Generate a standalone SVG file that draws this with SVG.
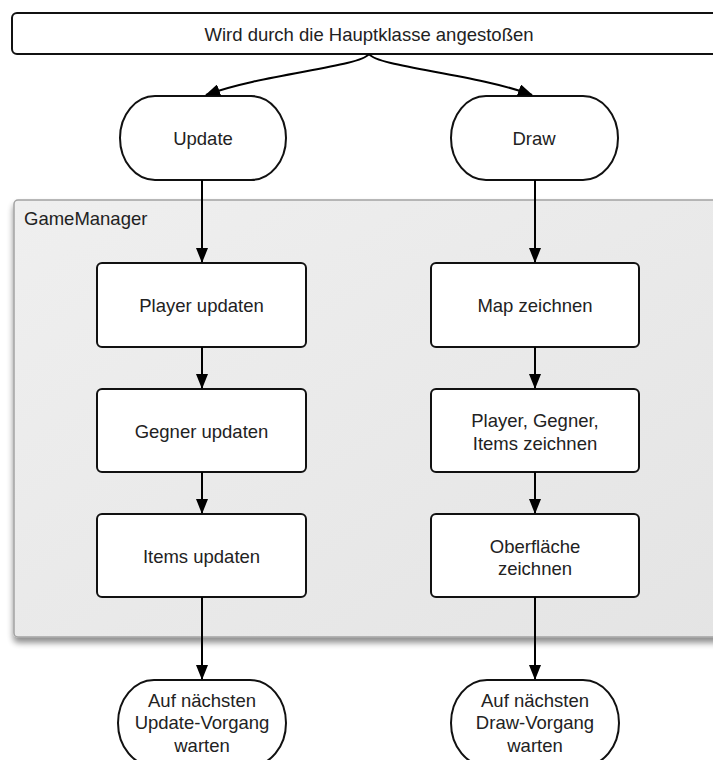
<svg xmlns="http://www.w3.org/2000/svg" width="713" height="760" viewBox="0 0 713 760">
<style>
  text { font-family: "Liberation Sans", Arial, sans-serif; font-size: 18.5px; fill: #222; text-anchor: middle; }
  .node { fill: #fff; stroke: #111; stroke-width: 2; }
  .conn { fill: none; stroke: #000; stroke-width: 2; }
</style>
<defs>
  <marker id="arrow" markerWidth="15" markerHeight="12" refX="14" refY="6" orient="auto" markerUnits="userSpaceOnUse" viewBox="0 0 15 12">
    <path d="M0,0 L15,6 L0,12 Z" fill="#000"/>
  </marker>
  <linearGradient id="gm" x1="0" y1="0" x2="1" y2="1">
    <stop offset="0" stop-color="#efefef"/>
    <stop offset="1" stop-color="#e4e4e4"/>
  </linearGradient>
  <filter id="shadow" x="-5%" y="-5%" width="115%" height="115%">
    <feGaussianBlur in="SourceAlpha" stdDeviation="3"/>
    <feOffset dx="0" dy="5" result="b"/>
    <feComponentTransfer><feFuncA type="linear" slope="0.45"/></feComponentTransfer>
    <feMerge><feMergeNode/><feMergeNode in="SourceGraphic"/></feMerge>
  </filter>
</defs>
<rect width="713" height="760" fill="#fff"/>

<g id="gamemanager">
  <rect x="14" y="200" width="720" height="437" rx="4" fill="url(#gm)" stroke="#a3a3a3" stroke-width="1.5" filter="url(#shadow)"/>
  <text x="24" y="225" style="text-anchor:start">GameManager</text>
</g>

<g id="start">
  <rect x="12" y="13" width="720" height="41" rx="5" class="node" stroke-width="1.8"/>
  <text x="369" y="41">Wird durch die Hauptklasse angestoßen</text>
</g>

<g id="update">
  <rect x="120" y="96" width="166" height="84" rx="35" ry="42" class="node"/>
  <text x="203" y="145">Update</text>
</g>
<g id="draw">
  <rect x="451" y="96" width="167" height="84" rx="35" ry="42" class="node"/>
  <text x="534" y="145">Draw</text>
</g>

<g id="player-updaten">
  <rect x="97" y="263" width="209" height="84" rx="5" class="node"/>
  <text x="201.5" y="312">Player updaten</text>
</g>
<g id="gegner-updaten">
  <rect x="97" y="389" width="209" height="83" rx="5" class="node"/>
  <text x="201.5" y="438">Gegner updaten</text>
</g>
<g id="items-updaten">
  <rect x="97" y="514" width="209" height="83" rx="5" class="node"/>
  <text x="201.5" y="563">Items updaten</text>
</g>

<g id="map-zeichnen">
  <rect x="431" y="263" width="208" height="84" rx="5" class="node"/>
  <text x="535" y="312">Map zeichnen</text>
</g>
<g id="objekte-zeichnen">
  <rect x="431" y="389" width="208" height="83" rx="5" class="node"/>
  <text x="535" y="427">Player, Gegner,</text>
  <text x="535" y="449.5">Items zeichnen</text>
</g>
<g id="oberflaeche-zeichnen">
  <rect x="431" y="514" width="208" height="83" rx="5" class="node"/>
  <text x="535" y="552.5">Oberfläche</text>
  <text x="535" y="575">zeichnen</text>
</g>

<g id="update-warten">
  <rect x="118" y="680" width="168" height="86" rx="36" ry="43" class="node"/>
  <text x="202" y="706.5">Auf nächsten</text>
  <text x="202" y="729">Update-Vorgang</text>
  <text x="202" y="751.5">warten</text>
</g>
<g id="draw-warten">
  <rect x="451" y="680" width="168" height="86" rx="36" ry="43" class="node"/>
  <text x="535" y="706.5">Auf nächsten</text>
  <text x="535" y="729">Draw-Vorgang</text>
  <text x="535" y="751.5">warten</text>
</g>

<g id="connectors">
  <path class="conn" d="M369,54 C360,67 262,74 206,95" marker-end="url(#arrow)"/>
  <path class="conn" d="M369,54 C378,67 476,74 532,95" marker-end="url(#arrow)"/>
  <path class="conn" d="M202,180 L202,262" marker-end="url(#arrow)"/>
  <path class="conn" d="M202,347 L202,388" marker-end="url(#arrow)"/>
  <path class="conn" d="M202,472 L202,513" marker-end="url(#arrow)"/>
  <path class="conn" d="M202,597 L202,679" marker-end="url(#arrow)"/>
  <path class="conn" d="M535,180 L535,262" marker-end="url(#arrow)"/>
  <path class="conn" d="M535,347 L535,388" marker-end="url(#arrow)"/>
  <path class="conn" d="M535,472 L535,513" marker-end="url(#arrow)"/>
  <path class="conn" d="M535,597 L535,679" marker-end="url(#arrow)"/>
</g>
</svg>
